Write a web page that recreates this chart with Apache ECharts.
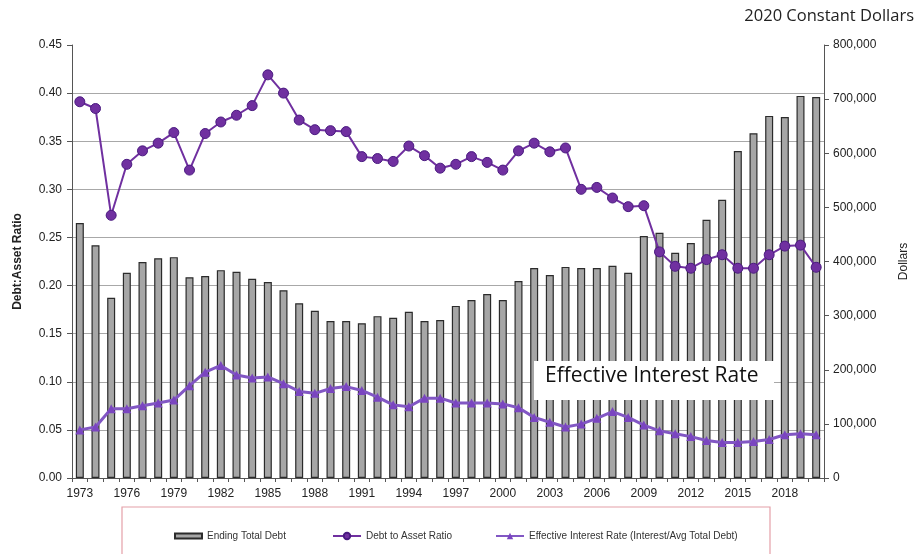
<!DOCTYPE html>
<html>
<head>
<meta charset="utf-8">
<script src="https://cdn.jsdelivr.net/npm/echarts@6/dist/echarts.min.js"></script>
<style>
  html, body { margin: 0; padding: 0; background: #fff; }
  #chart { width: 918px; height: 554px; }
</style>
</head>
<body>
<div id="chart"></div>
<script>
// Fiscal years shown on the category axis
const years = [];
for (let y = 1973; y <= 2020; y++) years.push(String(y));

// Ending total debt, 2020 constant dollars
const endingTotalDebt = [
  471000, 430000, 333000, 379000, 399000, 406000, 408000, 371000, 373000, 384000,
  381000, 368000, 362000, 347000, 323000, 309000, 290000, 290000, 286000, 299000,
  296000, 307000, 290000, 292000, 318000, 329000, 340000, 329000, 364000, 388000,
  375000, 390000, 388000, 388000, 392000, 379000, 447000, 453000, 416000, 434000,
  477000, 514000, 604000, 637000, 669000, 667000, 706000, 704000
];

// Debt to asset ratio
const debtToAsset = [
  0.391, 0.384, 0.273, 0.326, 0.340, 0.348, 0.359, 0.320, 0.358, 0.370,
  0.377, 0.387, 0.419, 0.400, 0.372, 0.362, 0.361, 0.360, 0.334, 0.332,
  0.329, 0.345, 0.335, 0.322, 0.326, 0.334, 0.328, 0.320, 0.340, 0.348,
  0.339, 0.343, 0.300, 0.302, 0.291, 0.282, 0.283, 0.235, 0.220, 0.218,
  0.227, 0.232, 0.218, 0.218, 0.232, 0.241, 0.242, 0.219
];

// Effective interest rate (interest / average total debt)
const effectiveRate = [
  0.050, 0.053, 0.072, 0.072, 0.075, 0.078, 0.081, 0.096, 0.110, 0.117,
  0.107, 0.104, 0.105, 0.098, 0.090, 0.088, 0.093, 0.095, 0.091, 0.084,
  0.076, 0.074, 0.083, 0.083, 0.078, 0.078, 0.078, 0.077, 0.073, 0.063,
  0.058, 0.053, 0.056, 0.062, 0.069, 0.063, 0.055, 0.049, 0.046, 0.043,
  0.039, 0.037, 0.037, 0.038, 0.040, 0.045, 0.046, 0.045
];

const FONT = '"Liberation Sans", Arial, sans-serif';
const chart = echarts.init(document.getElementById('chart'), null, { renderer: 'canvas' });

const legendBase = {
  top: 526,
  itemGap: 2,
  textStyle: { fontFamily: FONT, fontSize: 10, color: '#333' },
  selectedMode: false
};

chart.setOption({
  animation: false,
  backgroundColor: '#fff',
  grid: { left: 72, right: 91, top: 45, bottom: 76 },
  legend: [
    Object.assign({}, legendBase, {
      left: 169, data: [{ name: 'Ending Total Debt', icon: 'rect' }],
      itemWidth: 27, itemHeight: 5
    }),
    Object.assign({}, legendBase, {
      left: 327, data: ['Debt to Asset Ratio'], itemWidth: 28, itemHeight: 8
    }),
    Object.assign({}, legendBase, {
      left: 490, data: ['Effective Interest Rate (Interest/Avg Total Debt)'], itemWidth: 28, itemHeight: 8
    })
  ],
  xAxis: {
    type: 'category',
    data: years,
    boundaryGap: true,
    axisLine: { lineStyle: { color: '#555', width: 1 } },
    axisTick: { show: true, interval: 0, length: 4, lineStyle: { color: '#555' } },
    axisLabel: { interval: 2, margin: 10, fontFamily: FONT, fontSize: 12, color: '#222' }
  },
  yAxis: [
    {
      type: 'value', min: 0, max: 0.45, interval: 0.05,
      name: 'Debt:Asset Ratio', nameLocation: 'middle', nameRotate: 90, nameGap: 48,
      nameTextStyle: { fontFamily: FONT, fontSize: 12, fontWeight: 'bold', color: '#222' },
      axisLine: { show: true, lineStyle: { color: '#555' } },
      axisTick: { show: true, length: 5, lineStyle: { color: '#555' } },
      axisLabel: { fontFamily: FONT, fontSize: 12, color: '#222', margin: 10,
        formatter: v => v.toFixed(2) },
      splitLine: { show: true, showMaxLine: false, lineStyle: { color: '#a8a8a8', width: 1 } }
    },
    {
      type: 'value', min: 0, max: 800000, interval: 100000,
      name: 'Dollars', nameLocation: 'middle', nameRotate: 90, nameGap: 74,
      nameTextStyle: { fontFamily: FONT, fontSize: 12, color: '#222' },
      axisLine: { show: true, lineStyle: { color: '#555' } },
      axisTick: { show: true, length: 5, lineStyle: { color: '#555' } },
      axisLabel: { fontFamily: FONT, fontSize: 12, color: '#222', margin: 9,
        formatter: v => v.toLocaleString('en-US') },
      splitLine: { show: false }
    }
  ],
  series: [
    {
      name: 'Ending Total Debt', type: 'bar', yAxisIndex: 1,
      data: endingTotalDebt, barWidth: 8,
      itemStyle: { color: '#a6a6a6', borderColor: '#2b2b2b', borderWidth: 1.2 },
      z: 2
    },
    {
      name: 'Debt to Asset Ratio', type: 'line', yAxisIndex: 0,
      data: debtToAsset,
      symbol: 'circle', symbolSize: 10,
      lineStyle: { color: '#7030a0', width: 2 },
      itemStyle: { color: '#7030a0', borderColor: '#4a1a80', borderWidth: 1 },
      z: 4
    },
    {
      name: 'Effective Interest Rate (Interest/Avg Total Debt)', type: 'line', yAxisIndex: 0,
      data: effectiveRate,
      symbol: 'triangle', symbolSize: 9,
      lineStyle: { color: '#8257c4', width: 3 },
      itemStyle: { color: '#7a45c0' },
      z: 3
    }
  ],
  graphic: [
    {
      type: 'text', right: 4, top: 8, z: 100,
      style: { text: '2020 Constant Dollars', font: '16.5px "Open Sans", sans-serif', fill: '#222' }
    },
    {
      type: 'rect', z: 100,
      shape: { x: 534, y: 361, width: 240, height: 39 },
      style: { fill: '#fff', stroke: 'none' }
    },
    {
      type: 'text', z: 101, left: 545, top: 366,
      style: { text: 'Effective Interest Rate', font: '21px "Open Sans", sans-serif', fill: '#111' }
    },
    {
      type: 'rect', z: 100,
      shape: { x: 122, y: 507, width: 648, height: 60 },
      style: { fill: 'none', stroke: '#e4a0a8', lineWidth: 1.2 }
    }
  ]
});
</script>
</body>
</html>
